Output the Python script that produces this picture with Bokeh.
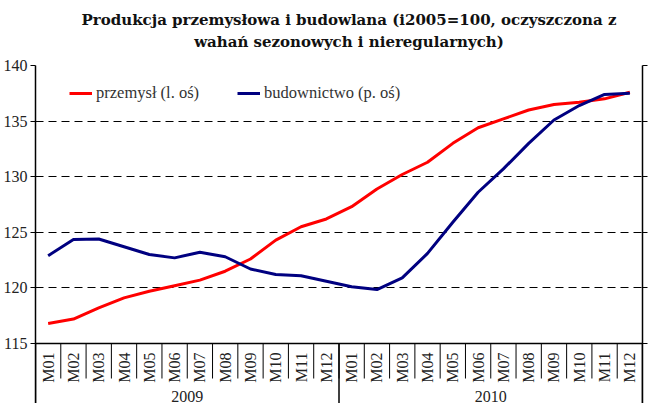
from math import pi
from bokeh.plotting import figure
from bokeh.layouts import column
from bokeh.models import (Range1d, LinearAxis, FixedTicker, Span, Legend, LegendItem,
                          ColumnDataSource, Div)
from bokeh.core.properties import value
from bokeh.embed import file_html
from bokeh.resources import INLINE

# ---- data ----
years = ["2009", "2010"]
months = ["M01", "M02", "M03", "M04", "M05", "M06",
          "M07", "M08", "M09", "M10", "M11", "M12"]
przemysl = [116.8, 117.2, 118.2, 119.1, 119.7, 120.2, 120.7, 121.5, 122.6, 124.3, 125.5, 126.2,
            127.3, 128.9, 130.2, 131.3, 133.0, 134.4, 135.2, 136.0, 136.5, 136.7, 137.0, 137.6]
budownictwo = [122.9, 124.35, 124.4, 123.7, 123.0, 122.7, 123.2, 122.8, 121.7, 121.2, 121.1, 120.6,
               120.1, 119.85, 120.9, 123.1, 125.9, 128.6, 130.7, 133.0, 135.1, 136.4, 137.4, 137.5]
y_ticks = [115, 120, 125, 130, 135, 140]
title_lines = ["Produkcja przemysłowa i budowlana (i2005=100, oczyszczona z",
               "wahań sezonowych i nieregularnych)"]
legend_labels = ["przemysł (l. oś)", "budownictwo (p. oś)"]

FONT = "Liberation Serif"
TFONT = "DejaVu Serif"
TXT = "#222222"

n = len(years) * len(months)
xs = [i + 0.5 for i in range(n)]
month_labels = [m for _ in years for m in months]

W = 650
TITLE_H = 55
H = 348
TOP, LEFT, RIGHT = 10, 35, 8
y_min, y_max = y_ticks[0], y_ticks[-1]
px_per_unit = 278.0 / (y_max - y_min)
frame_h = H - TOP
below_units = (frame_h - 278.0) / px_per_unit

# ---- title block ----
title_html = ('<div style="width:%dpx; padding-top:9px; padding-left:48px; box-sizing:border-box; '
              'text-align:center; font-family:\'%s\'; font-weight:bold; font-size:15px; '
              'line-height:22px; color:#111111;">%s<br>%s</div>'
              % (W, TFONT, title_lines[0], title_lines[1]))
title_div = Div(text=title_html, width=W, height=TITLE_H, margin=0)

# ---- chart ----
p = figure(width=W, height=H, output_backend="svg", toolbar_location=None, title=None,
           x_range=Range1d(0, n), y_range=Range1d(y_min - below_units, y_max),
           x_axis_location=None, y_axis_location="left",
           min_border_left=LEFT, min_border_right=RIGHT, min_border_bottom=0, min_border_top=TOP,
           margin=0)
p.outline_line_color = None
p.background_fill_color = "white"
p.border_fill_color = "white"

# left axis
ya = p.yaxis[0]
ya.ticker = FixedTicker(ticks=y_ticks, minor_ticks=[])
ya.major_tick_out = 5
ya.major_tick_in = 0
ya.major_label_standoff = 3
ya.major_label_text_font = FONT
ya.major_label_text_font_size = "16px"
ya.major_label_text_color = TXT
ya.axis_line_color = "black"
ya.axis_line_width = 1.5
ya.major_tick_line_color = "black"

# right axis (ticks only)
ra = LinearAxis(ticker=FixedTicker(ticks=y_ticks, minor_ticks=[]),
                major_tick_out=5, major_tick_in=0,
                major_label_overrides={t: "" for t in y_ticks},
                major_label_text_color=None, major_label_standoff=0,
                axis_line_color="black", axis_line_width=1.5,
                major_tick_line_color="black")
p.add_layout(ra, "right")

# grid
p.xgrid.visible = False
p.ygrid.ticker = FixedTicker(ticks=y_ticks[1:], minor_ticks=[])
p.ygrid.grid_line_color = "black"
p.ygrid.grid_line_dash = "8 5"
p.ygrid.grid_line_width = 1

# x axis baseline
p.add_layout(Span(location=y_min, dimension="width", line_color="black", line_width=1.5))

# month separators
sep_src = ColumnDataSource(dict(x=list(range(n + 1)),
                                y0=[y_min] * (n + 1),
                                y1=[y_min - 35.0 / px_per_unit] * (n + 1)))
p.segment(x0="x", y0="y0", x1="x", y1="y1", source=sep_src, line_color="black", line_width=1)
# year separators
ys_x = [i * len(months) for i in range(len(years) + 1)]
p.segment(x0=ys_x, y0=[y_min] * len(ys_x), x1=ys_x, y1=[y_min - below_units] * len(ys_x),
          line_color="black", line_width=1.5)

# month labels
p.text(x=xs, y=[y_min - 9.0 / px_per_unit] * n, text=month_labels, angle=pi / 2,
       text_align="right", text_baseline="middle", text_font=value(FONT),
       text_font_size="16px", text_color=TXT)
# year labels
year_x = [i * len(months) + len(months) / 2 for i in range(len(years))]
p.text(x=year_x, y=[y_min - below_units + 7.5 / px_per_unit] * len(years), text=years,
       text_align="center", text_baseline="middle", text_font=value(FONT),
       text_font_size="16px", text_color=TXT)

# series
r1 = p.line(xs, przemysl, line_color="#ff0000", line_width=3)
r2 = p.line(xs, budownictwo, line_color="#000080", line_width=3)

legend = Legend(items=[LegendItem(label=legend_labels[0], renderers=[r1]),
                       LegendItem(label=legend_labels[1], renderers=[r2])],
                orientation="horizontal", location=(34, frame_h - 38),
                padding=0, margin=0, spacing=38, glyph_width=23, glyph_height=20,
                label_height=20, label_standoff=4,
                label_text_font=FONT, label_text_font_size="16.5px", label_text_color="#333333",
                border_line_color=None, background_fill_alpha=0)
p.add_layout(legend, "center")

layout = column(title_div, p, spacing=0, margin=0)
open("out.html", "w").write(file_html(layout, INLINE))
